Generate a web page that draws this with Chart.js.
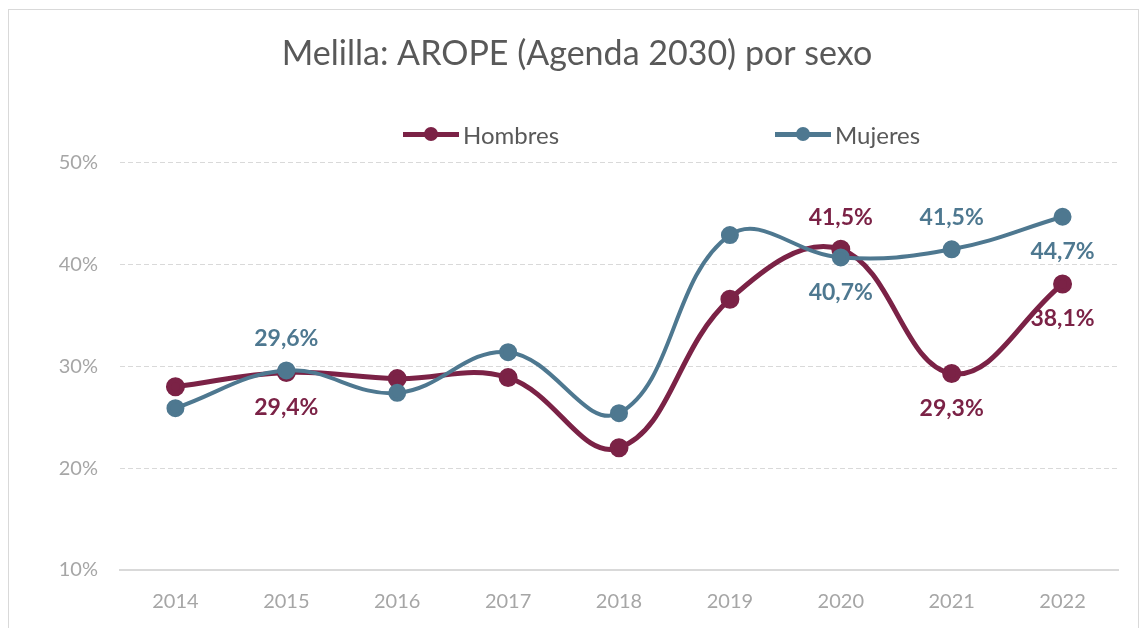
<!DOCTYPE html>
<html lang="es">
<head>
<meta charset="UTF-8">
<title>Melilla: AROPE (Agenda 2030) por sexo</title>
<script src="https://cdn.jsdelivr.net/npm/chart.js"></script>
<style>
    html, body { margin: 0; padding: 0; background: #fff; }
    body { width: 1142px; height: 628px; position: relative; overflow: hidden; font-family: Lato, "Open Sans", sans-serif; }
    #frame { position: absolute; left: 8px; top: 9px; width: 1131px; height: 640px; border: 1px solid #d9d9d9; box-sizing: border-box; }
    #chartBox { position: absolute; left: 0; top: 0; width: 1142px; height: 628px; }
    #legend { position: absolute; top: 120px; left: 0; width: 1142px; height: 30px; }
    .item { position: absolute; display: flex; align-items: center; font-size: 24px; color: #595959; }
    .mark { position: relative; width: 56px; height: 5px; margin-right: 4px; }
    .mark span { position: absolute; left: 21px; top: -5px; width: 14px; height: 14px; border-radius: 50%; }
</style>
</head>
<body>
<div id="frame"></div>
<div id="chartBox"><canvas id="myChart"></canvas></div>
<div id="legend"></div>

<script>
    // data
    var years = ['2014', '2015', '2016', '2017', '2018', '2019', '2020', '2021', '2022'];
    var hombres = [28.0, 29.4, 28.8, 28.9, 22.0, 36.6, 41.5, 29.3, 38.1];
    var mujeres = [25.9, 29.6, 27.4, 31.4, 25.4, 42.9, 40.7, 41.5, 44.7];
    // which points carry a value label, and on which side
    var hombresLabels = ['', 'below', '', '', '', '', 'above', 'below', 'below'];
    var mujeresLabels = ['', 'above', '', '', '', '', 'below', 'above', 'below'];
    var yTicks = [10, 20, 30, 40, 50];

    var colHombres = '#7b2246';
    var colMujeres = '#4e7890';
    var font = 'Lato, "Open Sans", sans-serif';

    // legend drawn as html so the two entries can sit far apart
    var legendItems = [
        { text: 'Hombres', color: colHombres, left: 403 },
        { text: 'Mujeres', color: colMujeres, left: 775 }
    ];
    var legendEl = document.getElementById('legend');
    legendItems.forEach(function (it) {
        var d = document.createElement('div');
        d.className = 'item';
        d.style.left = it.left + 'px';
        d.innerHTML = '<div class="mark" style="background:' + it.color + '"><span style="background:' + it.color + '"></span></div>' + it.text;
        legendEl.appendChild(d);
    });

    function fmt(v) {
        return v.toFixed(1).replace('.', ',') + '%';
    }

    // value labels next to chosen points
    var valueLabels = {
        id: 'valueLabels',
        afterDatasetsDraw: function (chart) {
            var ctx = chart.ctx;
            ctx.save();
            ctx.font = 'bold 23px ' + font;
            ctx.textAlign = 'center';
            ctx.textBaseline = 'middle';
            chart.data.datasets.forEach(function (ds, i) {
                var meta = chart.getDatasetMeta(i);
                meta.data.forEach(function (pt, j) {
                    var side = ds.labelSide[j];
                    if (!side) return;
                    ctx.fillStyle = ds.borderColor;
                    var dy = side === 'above' ? -32 : 35;
                    ctx.fillText(fmt(ds.data[j]), pt.x, pt.y + dy);
                });
            });
            ctx.restore();
        }
    };

    var ctx = document.getElementById('myChart').getContext('2d');
    var myChart = new Chart(ctx, {
        type: 'line',
        data: {
            labels: years,
            datasets: [{
                label: 'Hombres',
                data: hombres,
                labelSide: hombresLabels,
                borderColor: colHombres,
                backgroundColor: colHombres,
                borderWidth: 5,
                pointRadius: 7,
                pointHoverRadius: 7,
                tension: 0.4,
                order: 1
            }, {
                label: 'Mujeres',
                data: mujeres,
                labelSide: mujeresLabels,
                borderColor: colMujeres,
                backgroundColor: colMujeres,
                borderWidth: 4,
                pointRadius: 7,
                pointHoverRadius: 7,
                tension: 0.4,
                order: 0
            }]
        },
        options: {
            responsive: false,
            animation: false,
            maintainAspectRatio: false,
            layout: { padding: { top: 34, right: 24, bottom: 2, left: 36 } },
            plugins: {
                legend: { display: false },
                tooltip: { enabled: false },
                title: {
                    display: true,
                    text: 'Melilla: AROPE (Agenda 2030) por sexo',
                    color: '#595959',
                    font: { family: font, size: 34, weight: 'normal' },
                    padding: { top: 0, bottom: 88 }
                }
            },
            scales: {
                x: {
                    offset: true,
                    grid: { display: false },
                    border: { display: true, color: '#d9d9d9', width: 2 },
                    ticks: { color: '#a6a6a6', font: { family: font, size: 20 }, padding: 12 }
                },
                y: {
                    min: yTicks[0],
                    max: yTicks[yTicks.length - 1],
                    afterBuildTicks: function (s) {
                        s.ticks = yTicks.map(function (v) { return { value: v }; });
                    },
                    afterFit: function (s) { s.width = 84; },
                    border: { display: false, dash: [5, 3] },
                    grid: {
                        drawTicks: false,
                        color: function (c) { return c.tick && c.tick.value === yTicks[0] ? 'rgba(0,0,0,0)' : '#d9d9d9'; }
                    },
                    ticks: {
                        color: '#a6a6a6',
                        font: { family: font, size: 20 },
                        padding: 22,
                        callback: function (v) { return v + '%'; }
                    }
                }
            }
        },
        plugins: [valueLabels]
    });
    myChart.resize(1142, 628);
</script>
</body>
</html>
